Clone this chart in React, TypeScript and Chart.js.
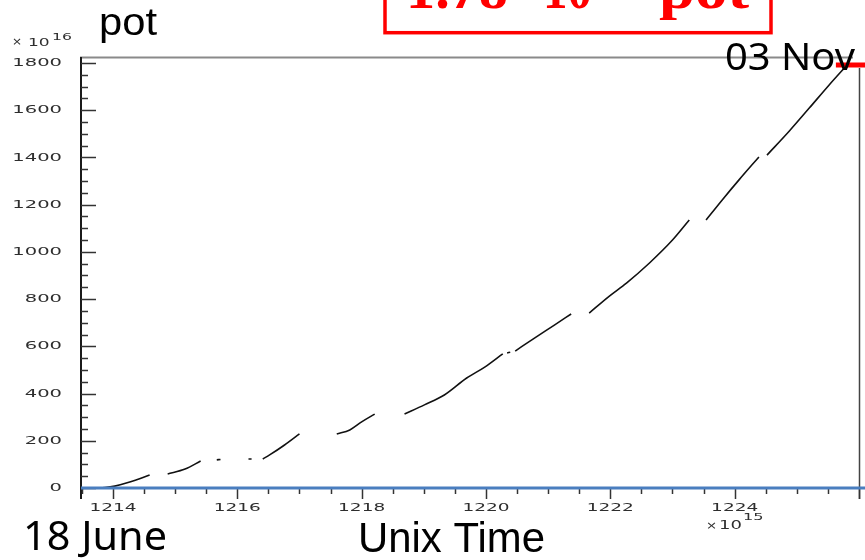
import React, { useEffect, useRef } from "react";
import { Chart, registerables } from "chart.js";

Chart.register(...registerables);

// Unix time (x 10^15) and accumulated pot (x 10^16); null marks a gap (no beam)
const timeValues: number[] = [
  1213.71, 1213.87, 1214.03, 1214.27, 1214.59,
  1214.7,
  1214.88, 1215.16, 1215.41,
  1215.5,
  1215.67, 1215.73,
  1216.0,
  1216.18, 1216.23,
  1216.3,
  1216.41, 1216.52, 1216.76, 1217.0,
  1217.3,
  1217.6, 1217.81, 1218.0, 1218.21,
  1218.4,
  1218.69, 1219.01, 1219.33, 1219.69, 1219.98, 1220.27,
  1220.3,
  1220.34, 1220.39,
  1220.43,
  1220.47, 1220.78, 1221.1, 1221.37,
  1221.5,
  1221.66, 1221.98, 1222.26, 1222.63, 1223.0, 1223.27,
  1223.4,
  1223.54, 1223.8, 1224.07, 1224.39,
  1224.45,
  1224.52, 1224.88, 1225.2, 1225.52, 1225.81,
];
const potValues: (number | null)[] = [
  0, 2, 8, 25, 55,
  null,
  59, 80, 114,
  null,
  119, 121,
  null,
  123, 123,
  null,
  123, 140, 182, 229,
  null,
  229, 246, 280, 313,
  null,
  313, 352, 394, 466, 512, 568,
  null,
  572, 575,
  null,
  580, 635, 690, 737,
  null,
  741, 812, 868, 953, 1050, 1135,
  null,
  1135, 1220, 1305, 1402,
  null,
  1410, 1512, 1609, 1707, 1792,
];

const xMajorTicks = [1214, 1216, 1218, 1220, 1222, 1224];
const xTickLabels = ["1214", "1216", "1218", "1220", "1222", "1224"];
const yMajorTicks = [0, 200, 400, 600, 800, 1000, 1200, 1400, 1600, 1800];
const yTickLabels = ["0", "200", "400", "600", "800", "1000", "1200", "1400", "1600", "1800"];
const xMinorStep = 0.5;
const yMinorStep = 50;

const X_MIN = 1213.47;
const X_MAX = 1226;
const Y_MIN = 0;
const Y_MAX = 1825.4;

function fitText(ctx: CanvasRenderingContext2D, text: string, x: number, y: number, width: number) {
  const w = ctx.measureText(text).width;
  const sx = width / w;
  ctx.save();
  ctx.translate(x, y);
  ctx.scale(sx, 1);
  ctx.textAlign = "left";
  ctx.fillText(text, 0, 0);
  ctx.restore();
}

function stretchText(ctx: CanvasRenderingContext2D, text: string, x: number, y: number, sx: number, align: CanvasTextAlign) {
  ctx.save();
  ctx.translate(x, y);
  ctx.scale(sx, 1);
  ctx.textAlign = align;
  ctx.fillText(text, 0, 0);
  ctx.restore();
}

const overlayPlugin = {
  id: "rootOverlay",
  afterDatasetsDraw(chart: any) {
    const ctx: CanvasRenderingContext2D = chart.ctx;
    const xs = chart.scales.x;
    const ys = chart.scales.y;
    const area = chart.chartArea;
    const W = chart.width;
    ctx.save();

    // frame
    ctx.strokeStyle = "#8a8a8a";
    ctx.lineWidth = 2;
    ctx.beginPath();
    ctx.moveTo(area.left, area.top + 0.5);
    ctx.lineTo(W - 12, area.top + 0.5);
    ctx.stroke();

    ctx.strokeStyle = "#1a1a1a";
    ctx.lineWidth = 2;
    ctx.beginPath();
    ctx.moveTo(area.left + 1, area.top);
    ctx.lineTo(area.left + 1, area.bottom + 11);
    ctx.stroke();

    ctx.strokeStyle = "#444";
    ctx.lineWidth = 1.5;
    ctx.beginPath();
    ctx.moveTo(area.right + 0.5, ys.getPixelForValue(1800) + 5);
    ctx.lineTo(area.right + 0.5, area.bottom + 11);
    ctx.stroke();

    // y ticks
    ctx.strokeStyle = "#333";
    ctx.lineWidth = 1.5;
    for (let v = 0; v <= Y_MAX; v += yMinorStep) {
      const py = Math.round(ys.getPixelForValue(v)) + 0.5;
      const major = v % 200 === 0;
      ctx.beginPath();
      ctx.moveTo(area.left + 1, py);
      ctx.lineTo(area.left + (major ? 16 : 8), py);
      ctx.stroke();
    }
    // x ticks
    for (let v = 1213.5; v <= X_MAX + 0.001; v += xMinorStep) {
      const px = Math.round(xs.getPixelForValue(v)) + 0.5;
      const major = Math.abs(v - Math.round(v)) < 1e-6 && Math.round(v) % 2 === 0;
      ctx.beginPath();
      ctx.moveTo(px, area.bottom);
      ctx.lineTo(px, area.bottom + (major ? 11 : 6));
      ctx.stroke();
    }

    // tick labels
    ctx.fillStyle = "#2e2e2e";
    ctx.font = '10px "DejaVu Sans"';
    ctx.textBaseline = "middle";
    yMajorTicks.forEach((v, i) => {
      stretchText(ctx, yTickLabels[i], 62, ys.getPixelForValue(v) + 0.5, 1.95, "right");
    });
    xMajorTicks.forEach((v, i) => {
      stretchText(ctx, xTickLabels[i], xs.getPixelForValue(v), area.bottom + 20.5, 1.85, "center");
    });

    // exponent labels
    ctx.textBaseline = "alphabetic";
    ctx.font = '10px "DejaVu Sans"';
    stretchText(ctx, "\u00d7", 12, 45, 1.2, "left");
    ctx.font = '11px "DejaVu Sans"';
    stretchText(ctx, "10", 28, 46, 1.55, "left");
    ctx.font = '8px "DejaVu Sans"';
    stretchText(ctx, "16", 52, 40, 1.95, "left");
    ctx.font = '11px "DejaVu Sans"';
    stretchText(ctx, "\u00d7", 706, 529, 1.2, "left");
    ctx.font = '12px "DejaVu Sans"';
    stretchText(ctx, "10", 719, 529, 1.5, "left");
    ctx.font = '9px "DejaVu Sans"';
    stretchText(ctx, "15", 743, 520, 1.8, "left");

    // blue zero line
    ctx.strokeStyle = "#4a7ebf";
    ctx.lineWidth = 3;
    ctx.beginPath();
    const y0 = ys.getPixelForValue(0);
    ctx.moveTo(area.left + 1, y0);
    ctx.lineTo(W, y0);
    ctx.stroke();

    // red end marker
    ctx.strokeStyle = "#ff0000";
    ctx.lineWidth = 5;
    const y1800 = ys.getPixelForValue(1800) + 2;
    ctx.beginPath();
    ctx.moveTo(xs.getPixelForValue(1225.95) - 20, y1800);
    ctx.lineTo(W, y1800);
    ctx.stroke();

    // big annotations
    ctx.fillStyle = "#000";
    ctx.font = '38px "Liberation Sans"';
    fitText(ctx, "pot", 99, 35, 58);
    ctx.font = '38px "Noto Sans"';
    fitText(ctx, "03 Nov", 725, 70, 130);
    ctx.font = '40px "Noto Sans"';
    fitText(ctx, "18 June", 23, 550, 144);
    ctx.font = '42px "Liberation Sans"';
    fitText(ctx, "Unix Time", 358, 552, 187);

    // red box with total
    ctx.strokeStyle = "#ff0000";
    ctx.lineWidth = 3.5;
    ctx.strokeRect(385, -20, 386, 52.7);
    ctx.fillStyle = "#ff0000";
    ctx.font = 'bold 58px "Liberation Serif"';
    fitText(ctx, "1.78", 406, 8, 102);
    fitText(ctx, "10", 543, 8, 49);
    ctx.font = 'bold 34px "Liberation Serif"';
    fitText(ctx, "18", 597, -16, 40);
    ctx.font = 'bold 58px "Liberation Serif"';
    fitText(ctx, "pot", 659, 8, 90);

    ctx.restore();
  },
};

export default function App() {
  const canvasRef = useRef<HTMLCanvasElement | null>(null);

  useEffect(() => {
    document.body.style.margin = "0";
    const canvas = canvasRef.current;
    if (!canvas) return;
    const points = timeValues.map((x, i) => ({ x, y: potValues[i] }));
    const chart = new Chart(canvas, {
      type: "line",
      data: {
        datasets: [
          {
            data: points as any,
            borderColor: "#111111",
            borderWidth: 1.6,
            pointRadius: 0,
            cubicInterpolationMode: "monotone",
            spanGaps: false,
            fill: false,
            clip: 6,
          } as any,
        ],
      },
      options: {
        animation: false,
        responsive: false,
        maintainAspectRatio: false,
        devicePixelRatio: 1,
        layout: { padding: { left: 80, top: 57, right: 6, bottom: 72 } },
        plugins: { legend: { display: false }, tooltip: { enabled: false }, title: { display: false } },
        scales: {
          x: { type: "linear", min: X_MIN, max: X_MAX, display: false },
          y: { type: "linear", min: Y_MIN, max: Y_MAX, display: false },
        },
      },
      plugins: [overlayPlugin],
    });
    return () => chart.destroy();
  }, []);

  return (
    <div style={{ position: "fixed", left: 0, top: 0, width: 865, height: 560, background: "#fff" }}>
      <canvas ref={canvasRef} width={865} height={560} style={{ display: "block" }} />
    </div>
  );
}
